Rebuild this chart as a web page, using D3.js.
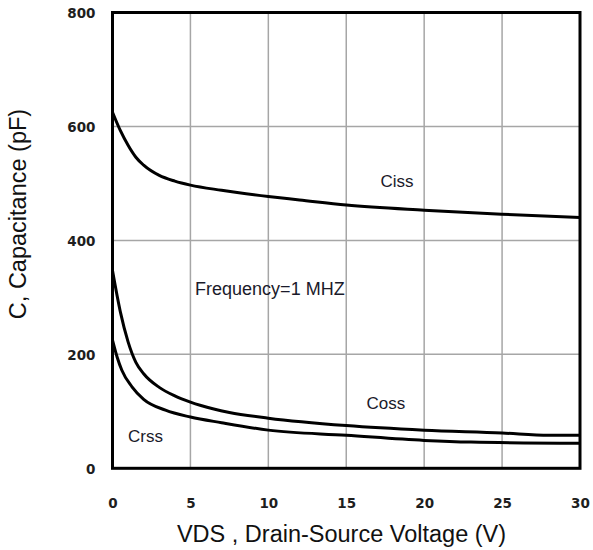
<!DOCTYPE html>
<html>
<head>
<meta charset="utf-8">
<script src="https://cdn.jsdelivr.net/npm/d3@7"></script>
<style>
  html, body { margin: 0; padding: 0; background: #fff; }
  svg { display: block; }
</style>
</head>
<body>
<svg id="chart" width="593" height="550"></svg>
<script>
// ---- data ----
const vds = [0, 0.5, 1, 1.5, 2, 3, 4, 5, 7, 8, 10, 12, 15, 20, 25, 30];
const ciss = [625, 593, 567, 546, 532, 514, 504, 497, 488, 484, 477, 471, 462, 453, 446, 440];

const vdsOss = [0, 0.5, 1, 1.5, 2, 3, 4, 5, 6.5, 7.5, 10, 15, 20, 25, 28, 30];
const coss = [347, 275, 222, 186, 166, 142, 127, 116, 104, 98, 88, 75, 67, 62, 58, 58];

const vdsRss = [0, 0.3, 0.6, 1.25, 2, 3.4, 5, 7, 10, 15, 20, 23, 30];
const crss = [225, 195, 172, 143, 121, 102, 90, 80, 67, 58, 49, 46, 44];

const xTicks = [0, 5, 10, 15, 20, 25, 30];
const yTicks = [0, 200, 400, 600, 800];

const seriesLabels = [
  { text: "Ciss", x: 17.2, y: 494 },
  { text: "Coss", x: 16.3, y: 104 },
  { text: "Crss", x: 1.0, y: 46 }
];
const noteText = "Frequency=1 MHZ";
const notePos = { x: 5.3, y: 305 };
const xTitle = "VDS , Drain-Source Voltage (V)";
const yTitle = "C, Capacitance (pF)";

// ---- layout ----
const svg = d3.select("#chart");
const L = 112.5, R = 580, T = 12.5, B = 468.3;
const x = d3.scaleLinear().domain([0, 30]).range([L, R]);
const y = d3.scaleLinear().domain([0, 800]).range([B, T]);

// gridlines
const g = svg.append("g");
g.selectAll("line.vg").data(xTicks.slice(1, -1)).enter().append("line")
  .attr("x1", d => x(d)).attr("x2", d => x(d))
  .attr("y1", T).attr("y2", B)
  .attr("stroke", "#a6a6a6").attr("stroke-width", 1.5);
g.selectAll("line.hg").data(yTicks.slice(1, -1)).enter().append("line")
  .attr("x1", L).attr("x2", R)
  .attr("y1", d => y(d)).attr("y2", d => y(d))
  .attr("stroke", "#a6a6a6").attr("stroke-width", 1.5);

// axes (labels only)
const xAxis = d3.axisBottom(x).tickValues(xTicks).tickSize(0).tickPadding(0).tickFormat(d3.format("d"));
const yAxis = d3.axisLeft(y).tickValues(yTicks).tickSize(0).tickPadding(0).tickFormat(d3.format("d"));

const tickFont = "'DejaVu Sans', sans-serif";
const gx = svg.append("g").attr("transform", `translate(0,${B})`).call(xAxis);
gx.select(".domain").remove();
gx.selectAll("text")
  .attr("y", 0).attr("dy", null)
  .attr("transform", "translate(0,40)")
  .style("font-family", tickFont)
  .style("font-weight", "bold").style("font-size", "13.5px").attr("fill", "#1e1e1e");

const gy = svg.append("g").attr("transform", `translate(${L},0)`).call(yAxis);
gy.select(".domain").remove();
gy.selectAll("text")
  .attr("x", -17).attr("dy", "0.36em")
  .style("font-family", tickFont)
  .style("font-weight", "bold").style("font-size", "13.5px").attr("fill", "#1e1e1e");

// curves
const line = d3.line().x(d => x(d[0])).y(d => y(d[1])).curve(d3.curveMonotoneX);
const series = [
  d3.zip(vds, ciss),
  d3.zip(vdsOss, coss),
  d3.zip(vdsRss, crss)
];
svg.append("g").selectAll("path").data(series).enter().append("path")
  .attr("d", line).attr("fill", "none").attr("stroke", "#000")
  .attr("stroke-width", 3).attr("stroke-linejoin", "round");

// frame
svg.append("rect").attr("x", L).attr("y", T).attr("width", R - L).attr("height", B - T)
  .attr("fill", "none").attr("stroke", "#000").attr("stroke-width", 3);

// annotations
const txtFont = "'Liberation Sans', Arial, sans-serif";
svg.append("g").selectAll("text").data(seriesLabels).enter().append("text")
  .attr("x", d => x(d.x)).attr("y", d => y(d.y))
  .text(d => d.text)
  .style("font-family", txtFont).style("font-size", "17px").attr("fill", "#1a1a2a");

svg.append("text").attr("x", x(notePos.x)).attr("y", y(notePos.y))
  .text(noteText)
  .style("font-family", txtFont).style("font-size", "18px").attr("fill", "#1a1a2a");

// axis titles
svg.append("text").attr("x", 341.5).attr("y", 542).attr("text-anchor", "middle")
  .text(xTitle)
  .style("font-family", txtFont).style("font-size", "23.5px").attr("fill", "#111");

svg.append("text").attr("transform", "translate(26,214) rotate(-90)").attr("text-anchor", "middle")
  .text(yTitle)
  .style("font-family", txtFont).style("font-size", "23.5px").attr("fill", "#111");
</script>
</body>
</html>
